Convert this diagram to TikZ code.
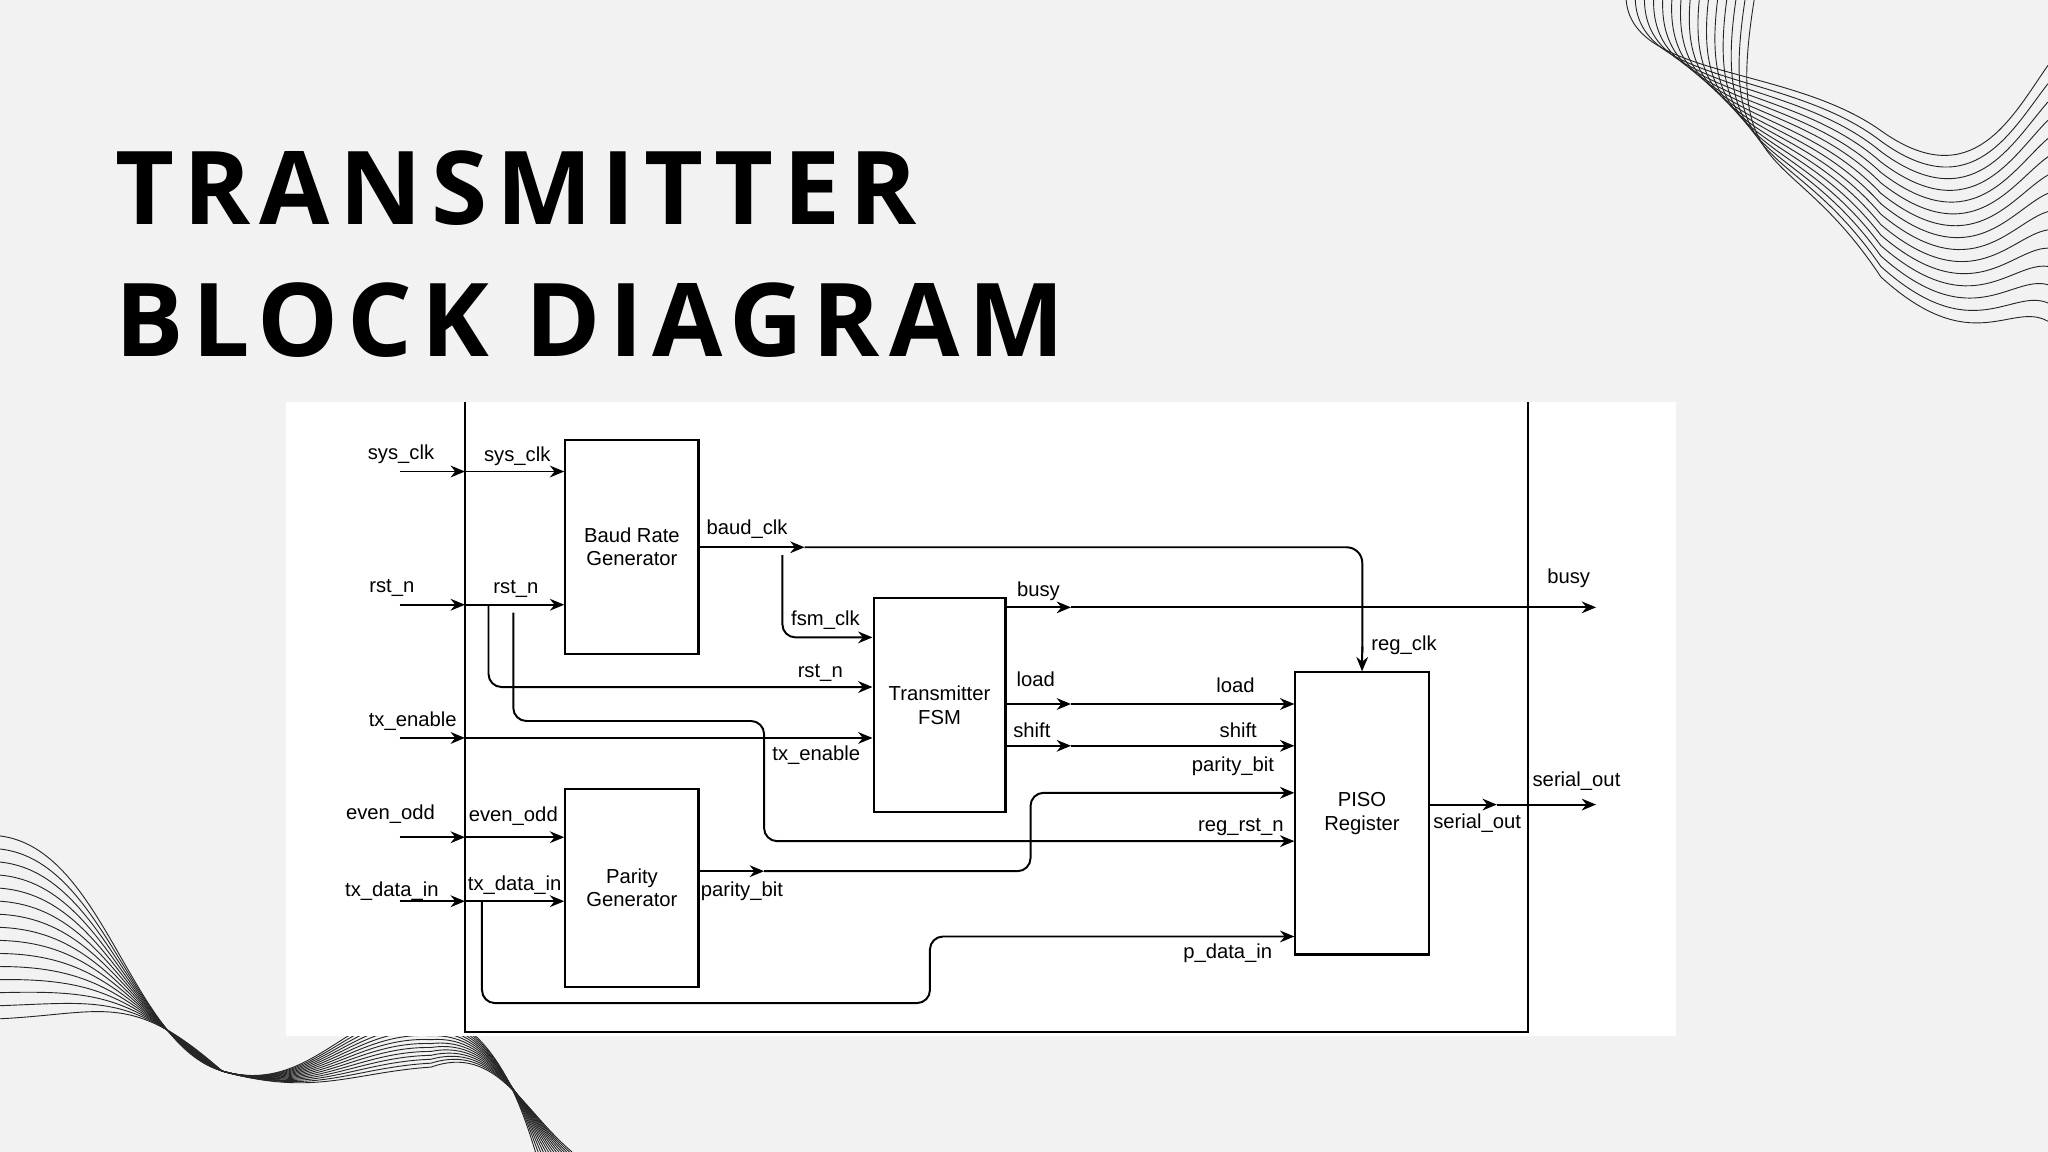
\documentclass[tikz,border=0pt]{standalone}
\usepackage{fontspec}
\setmainfont{Liberation Sans}
\newfontfamily\titlefont[LetterSpace=9]{Open Sans}
\usetikzlibrary{arrows.meta}
\begin{document}
\begin{tikzpicture}[x=1pt,y=-1pt,
  blk/.style={draw,line width=1.6pt,minimum width=102pt,anchor=north west,align=center,font=\fontsize{15.5}{18}\selectfont},
  wire/.style={line width=1.5pt},
  arr/.style={line width=1.5pt,-{Stealth[length=11pt,width=9pt]}},
  lbl/.style={font=\fontsize{15.5}{18}\selectfont,inner sep=0pt},
  wave/.style={line width=0.7pt,black!85}]
\useasboundingbox (0,0) rectangle (1568,882);
\fill[black!5] (0,0) rectangle (1568,882);
% waves
\foreach \i in {0,...,14}{
 \draw[wave] (1245+7*\i,0) .. controls (1250+5*\i,60+6*\i) and (1370,50+4*\i) .. (1440,100+8*\i)
   .. controls (1510,150+9*\i) and (1540,90+10*\i) .. (1568,50+14*\i);
 \draw[wave] (0,640+10*\i) .. controls (80,650+9*\i) and (100,800-3*\i) .. (170,820)
   .. controls (240,840) and (270,765+4*\i) .. (330,775+3*\i) .. controls (380,785+\i) and (400,850) .. (410+2*\i,882);
}
% title
\node[anchor=base west,inner sep=0pt,font=\titlefont\bfseries\fontsize{78}{80}\selectfont] (t1) at (88,172) {TRANSMITTER};
\node[anchor=base west,inner sep=0pt,font=\titlefont\bfseries\fontsize{78}{80}\selectfont] (t2) at (88,273) {BLOCK DIAGRAM};
% panel
\fill[white] (219,308) rectangle (1283,793);
\draw[line width=1.6pt] (356,308) -- (356,790) -- (1170,790) -- (1170,308);
% blocks
\node[blk,minimum height=164pt] (baud) at (432,336) {Baud Rate\\Generator};
\node[blk,minimum height=164pt,minimum width=101pt] (fsm) at (668,457) {Transmitter\\FSM};
\node[blk,minimum height=152pt] (par) at (432,603) {Parity\\Generator};
\node[blk,minimum height=216pt] (piso) at (991,514) {PISO\\Register};
% inputs
\foreach \nm/\y in {sys/361, rst/463, txe/565, eo/641, txd/690}{
  \coordinate (\nm0) at (306,\y); \coordinate (\nm1) at (356,\y);
  \draw[arr] (\nm0) -- (\nm1);
}
\node[lbl] at (307,348) {sys\_clk};
\node[lbl] at (300,450) {rst\_n};
\node[lbl] at (316,552) {tx\_enable};
\node[lbl] at (299,623) {even\_odd};
\node[lbl] at (300,682) {tx\_data\_in};
\draw[arr] (sys1) -- (baud.west |- sys1); \node[lbl] at (396,349) {sys\_clk};
\draw[arr] (rst1) -- (baud.west |- rst1); \node[lbl] at (395,451) {rst\_n};
\draw[arr] (eo1) -- (par.west |- eo1); \node[lbl] at (393,625) {even\_odd};
\draw[arr] (txd1) -- (par.west |- txd1); \node[lbl] at (394,678) {tx\_data\_in};
\draw[arr] (txe1) -- (fsm.west |- txe1); \node[lbl] at (625,578) {tx\_enable};
% rst branches
\draw[arr,rounded corners=10pt] (374,463) -- (374,526) -- (fsm.west |- 0,526);
\node[lbl] at (628,515) {rst\_n};
\draw[arr,rounded corners=10pt] (393,469) -- (393,552) -- (585,552) -- (585,644) -- (piso.west |- 0,644);
\node[lbl] at (950,633) {reg\_rst\_n};
% baud clk
\coordinate (bc) at (baud.east |- 0,419);
\draw[arr] (bc) -- (616,419);
\draw[wire,rounded corners=12pt] (616,419) -- (1043,419) -- (1043,500);
\draw[arr] (1043,495) -- (piso.north);
\node[lbl] at (572,405) {baud\_clk};
\node[lbl] at (1075,494) {reg\_clk};
\draw[arr,rounded corners=10pt] (599,425) -- (599,488) -- (fsm.west |- 0,488);
\node[lbl] at (632,475) {fsm\_clk};
% fsm outputs
\draw[arr] (fsm.east |- 0,465) -- (820,465); \draw[arr] (820,465) -- (1222,465);
\node[lbl] at (795,453) {busy}; \node[lbl] at (1201,443) {busy};
\draw[arr] (fsm.east |- 0,539) -- (820,539); \draw[arr] (820,539) -- (piso.west |- 0,539);
\node[lbl] at (793,520) {load}; \node[lbl] at (946,525) {load};
\draw[arr] (fsm.east |- 0,571) -- (820,571); \draw[arr] (820,571) -- (piso.west |- 0,571);
\node[lbl] at (790,559) {shift}; \node[lbl] at (948,559) {shift};
% parity
\draw[arr] (par.east |- 0,667) -- (585,667);
\draw[arr,rounded corners=10pt] (585,667) -- (789,667) -- (789,607) -- (piso.west |- 0,607);
\node[lbl] at (568,682) {parity\_bit}; \node[lbl] at (944,587) {parity\_bit};
% p_data_in
\draw[arr,rounded corners=10pt] (369,690) -- (369,768) -- (712,768) -- (712,717) -- (piso.west |- 0,717);
\node[lbl] at (940,730) {p\_data\_in};
% serial out
\draw[arr] (piso.east |- 0,616) -- (1146,616); \draw[arr] (1146,616) -- (1222,616);
\node[lbl] at (1131,630) {serial\_out}; \node[lbl] at (1207,598) {serial\_out};
\end{tikzpicture}
\end{document}
